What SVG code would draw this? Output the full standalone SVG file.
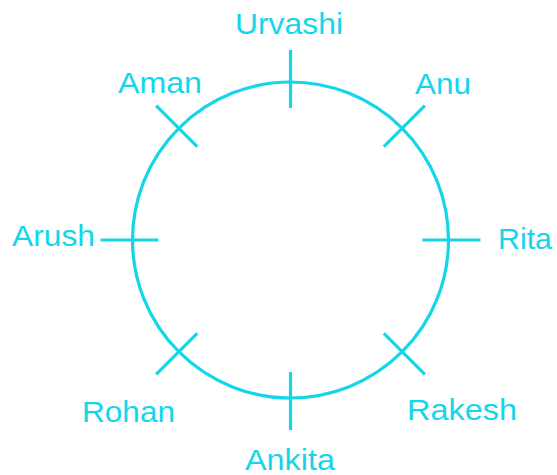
<svg xmlns="http://www.w3.org/2000/svg" width="557" height="475" viewBox="0 0 557 475">
<style>
.ln{stroke:#14d6ea;stroke-width:3.2;fill:none;stroke-linecap:butt}
.lb{font-family:"Liberation Sans",Arial,sans-serif;font-size:29px;fill:#14d6ea}
</style>
<rect width="557" height="475" fill="#ffffff"/>
<g id="table"><circle class="ln" cx="290.5" cy="240" r="158"/></g>
<g id="connectors">
<line class="ln" x1="290.5" y1="50" x2="290.5" y2="108"/>
<line class="ln" x1="290.5" y1="372" x2="290.5" y2="430"/>
<line class="ln" x1="100.5" y1="240" x2="158.5" y2="240"/>
<line class="ln" x1="422.5" y1="240" x2="480.5" y2="240"/>
<line class="ln" x1="156.2" y1="105.7" x2="197.2" y2="146.7"/>
<line class="ln" x1="424.8" y1="105.7" x2="383.8" y2="146.7"/>
<line class="ln" x1="156.2" y1="374.3" x2="197.2" y2="333.3"/>
<line class="ln" x1="424.8" y1="374.3" x2="383.8" y2="333.3"/>
</g>
<g id="urvashi"><text class="lb" x="235" y="34" textLength="108" lengthAdjust="spacingAndGlyphs">Urvashi</text></g>
<g id="aman"><text class="lb" x="118" y="93" textLength="84" lengthAdjust="spacingAndGlyphs">Aman</text></g>
<g id="anu"><text class="lb" x="415" y="94" textLength="56" lengthAdjust="spacingAndGlyphs">Anu</text></g>
<g id="arush"><text class="lb" x="12" y="246" textLength="83" lengthAdjust="spacingAndGlyphs">Arush</text></g>
<g id="rita"><text class="lb" x="498" y="249" textLength="54" lengthAdjust="spacingAndGlyphs">Rita</text></g>
<g id="rohan"><text class="lb" x="82" y="422" textLength="93" lengthAdjust="spacingAndGlyphs">Rohan</text></g>
<g id="rakesh"><text class="lb" x="407" y="420" textLength="110" lengthAdjust="spacingAndGlyphs">Rakesh</text></g>
<g id="ankita"><text class="lb" x="245" y="470" textLength="90" lengthAdjust="spacingAndGlyphs">Ankita</text></g>
</svg>
